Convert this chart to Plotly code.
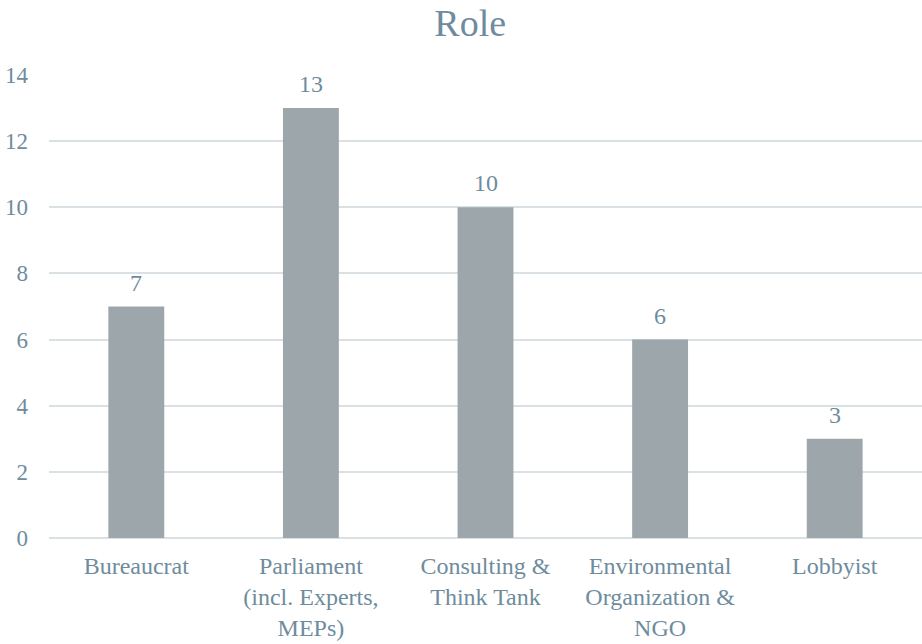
import plotly.graph_objects as go

categories = ["Bureaucrat", "Parliament<br>(incl. Experts,<br>MEPs)", "Consulting &<br>Think Tank",
              "Environmental<br>Organization &<br>NGO", "Lobbyist"]
values = [7, 13, 10, 6, 3]
y_ticks = [0, 2, 4, 6, 8, 10, 12, 14]

TXT = "#6E8C9D"
BAR = "#9CA6AB"
GRID = "#D9E1E5"
FONT = "'Liberation Serif', 'Times New Roman', Times, 'DejaVu Serif', serif"

fig = go.Figure(go.Bar(
    x=categories, y=values, marker_color=BAR, marker_line_width=0,
))
for c, v in zip(categories, values):
    fig.add_annotation(x=c, y=v, text=str(v), showarrow=False, yanchor="bottom", yshift=9,
                       font=dict(family=FONT, size=24, color=TXT))
fig.update_layout(
    width=922, height=644,
    margin=dict(l=49, r=0, t=75, b=106),
    paper_bgcolor="white", plot_bgcolor="white",
    title=dict(text="Role", x=0.51, xanchor="center", y=0.965, yanchor="middle",
               font=dict(family=FONT, size=38, color=TXT)),
    bargap=0.68, showlegend=False,
    font=dict(family=FONT, color=TXT),
)
fig.update_xaxes(tickfont=dict(family=FONT, size=24, color=TXT), showgrid=False,
                 showline=False, ticks="", ticklabelstandoff=11)
fig.update_yaxes(range=[0, 14], tickvals=y_ticks, tickfont=dict(family=FONT, size=23, color=TXT),
                 showgrid=True, gridcolor=GRID, gridwidth=2, zeroline=True, zerolinecolor=GRID,
                 zerolinewidth=2, ticklabelstandoff=20, showline=False)
fig.write_html("out.html")
